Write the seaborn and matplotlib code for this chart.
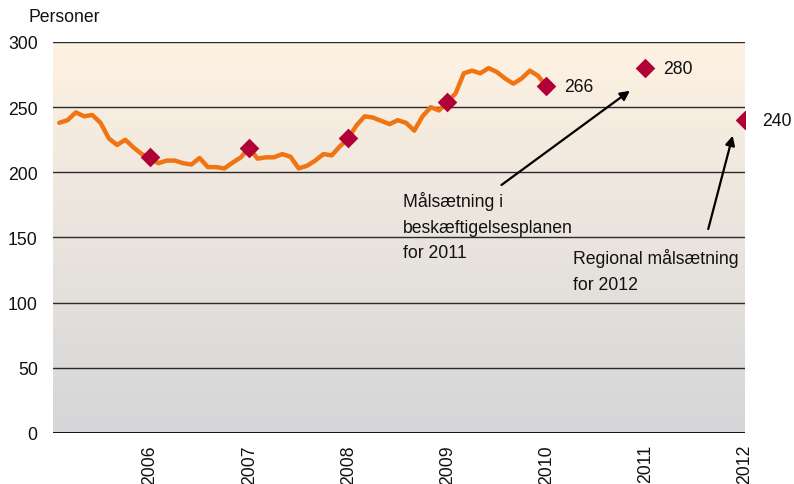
import numpy as np
import pandas as pd
import matplotlib
matplotlib.use("Agg")
import matplotlib.pyplot as plt
import seaborn as sns
from matplotlib.colors import LinearSegmentedColormap

# ---------------- data ----------------
line_start = "2005-02-01"
line_end = "2010-01-01"
line_values = [238, 240, 246, 243, 244, 238, 226, 221, 225, 219, 214,
               211, 207, 209, 209, 207, 206, 211, 204, 204, 203, 207.5, 211.5,
               219, 210.5, 211.5, 211.5, 214, 212, 203, 205, 209, 214, 213, 220,
               226, 236, 243, 242, 239.5, 237, 240, 238, 232, 243, 250, 247.5,
               254, 260.5, 276, 278, 276, 280, 277, 272, 268, 272, 278, 274,
               266]
marker_years = [2006, 2007, 2008, 2009, 2010, 2011, 2012]
marker_values = [211.5, 219, 226, 254, 266, 280, 240]
labelled_years = [2010, 2011, 2012]
labelled_texts = ["266", "280", "240"]
y_ticks = [0, 50, 100, 150, 200, 250, 300]
x_ticks = [2006, 2007, 2008, 2009, 2010, 2011, 2012]
y_title = "Personer"
note_2011 = "Målsætning i\nbeskæftigelsesplanen\nfor 2011"
note_2012 = "Regional målsætning\nfor 2012"

dates = pd.date_range(line_start, line_end, freq="MS")
df_line = pd.DataFrame({"year": dates.year + (dates.month - 1) / 12.0,
                        "value": line_values})
df_mark = pd.DataFrame({"year": marker_years, "value": marker_values})

# ---------------- style ----------------
sns.set_theme(style="white")
plt.rcParams["font.family"] = ["Liberation Sans", "DejaVu Sans"]
FS = 12.7

fig = plt.figure(figsize=(7.94, 4.85), dpi=100)
ax = fig.add_axes([53 / 794, 1 - 434 / 485, (745 - 53) / 794, (434 - 43) / 485])

xmin, xmax = 2005.02, 2012.005
ax.set_xlim(xmin, xmax)
ax.set_ylim(0, 300)

# gradient background
cmap = LinearSegmentedColormap.from_list("bg", ["#D5D6D8", "#FEF2E2"])
grad = np.linspace(0, 1, 256).reshape(-1, 1)
ax.imshow(grad, cmap=cmap, origin="lower", aspect="auto",
          extent=(xmin, xmax, 0, 300), zorder=0)

# gridlines
for yv in y_ticks:
    ax.axhline(yv, color="#2a2a2a" if yv else "#111111",
               lw=1.0 if yv else 1.4, zorder=1)

sns.lineplot(data=df_line, x="year", y="value", ax=ax, color="#F07412",
             lw=3.2, zorder=3, solid_joinstyle="round", solid_capstyle="round")
sns.scatterplot(data=df_mark, x="year", y="value", ax=ax, marker="D",
                color="#B00038", s=100, linewidth=0, zorder=4)

for yr, txt in zip(labelled_years, labelled_texts):
    v = marker_values[marker_years.index(yr)]
    ax.annotate(txt, (yr, v), xytext=(13, 0), textcoords="offset points",
                ha="left", va="center", fontsize=FS, color="#111111",
                annotation_clip=False)

# notes with arrows
ax.annotate("", xy=(2010.843, 262.6), xytext=(2009.547, 190.3),
            arrowprops=dict(arrowstyle="-|>", color="black", lw=1.6,
                            mutation_scale=14, shrinkA=0, shrinkB=0), zorder=5)
ax.annotate("", xy=(2011.881, 228.1), xytext=(2011.634, 156.5),
            arrowprops=dict(arrowstyle="-|>", color="black", lw=1.6,
                            mutation_scale=14, shrinkA=0, shrinkB=0), zorder=5)
ax.text(2008.551, 158.8, note_2011, ha="left", va="center", fontsize=FS,
        linespacing=1.68, color="#111111", zorder=5)
ax.text(2010.268, 124.7, note_2012, ha="left", va="center", fontsize=FS,
        linespacing=1.68, color="#111111", zorder=5)

# axes cosmetics
for s in ax.spines.values():
    s.set_visible(False)
ax.set_xticks(x_ticks)
ax.set_xticklabels([str(x) for x in x_ticks], rotation=90, fontsize=FS,
                   color="#111111")
ax.set_yticks(y_ticks)
ax.set_yticklabels([str(y) for y in y_ticks], fontsize=FS, color="#111111")
ax.tick_params(axis="both", length=0)
ax.tick_params(axis="y", pad=11)
ax.tick_params(axis="x", pad=8)
ax.set_xlabel("")
ax.set_ylabel("")
ax.grid(False)

fig.text(28 / 794, 1 - 18 / 485, y_title, ha="left", va="center",
         fontsize=FS, color="#111111")

fig.savefig("out.png", dpi=100, facecolor="white")
